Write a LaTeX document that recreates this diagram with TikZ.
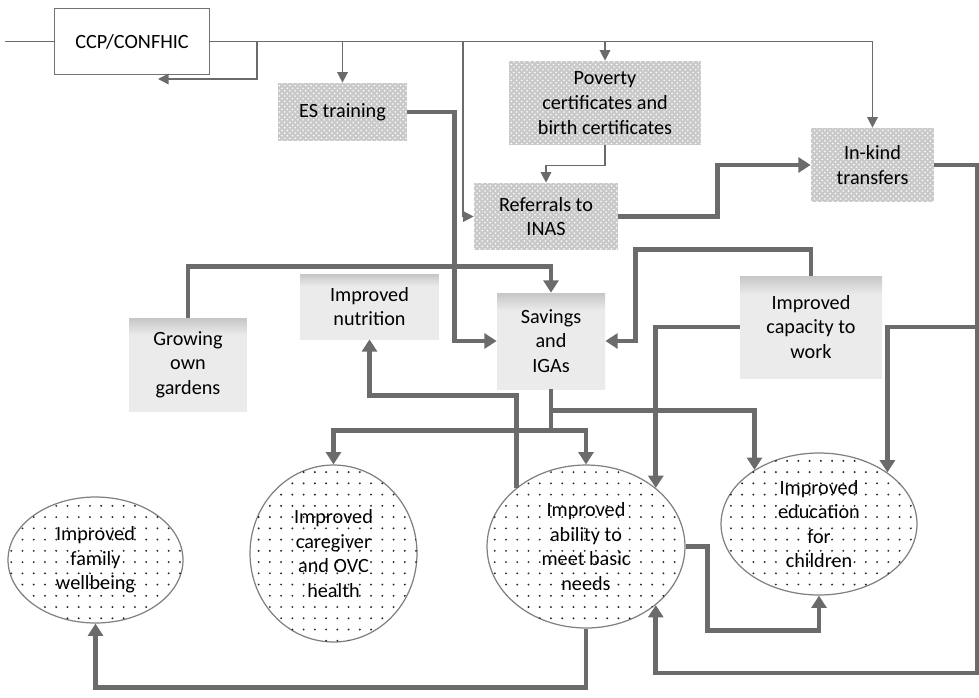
\documentclass[tikz,border=0pt]{standalone}
\usepackage{fontspec}
\setmainfont{Carlito}
\usetikzlibrary{arrows.meta,shapes.geometric,patterns,patterns.meta,calc}

\pgfdeclareverticalshading{boxfade}{100bp}{color(0bp)=(black!8); color(66bp)=(black!8); color(100bp)=(black!62)}

\tikzdeclarepattern{
  name=sparsedots,
  type=uncolored,
  bottom left={(-1pt,-1pt)},
  top right={(1pt,1pt)},
  tile size={(6.4pt,6.4pt)},
  code={\fill (0pt,0pt) circle [radius=0.6pt];}
}

\tikzset{
  txt/.style={font=\fontsize{11.5}{14}\selectfont, align=center, inner sep=0pt},
  plainbox/.style={txt, draw=black!55, line width=0.7pt, fill=white},
  meshbox/.style={txt, fill=black!21, postaction={pattern=crosshatch dots, pattern color=white}},
  fadebox/.style={txt, shading=boxfade},
  dotcircle/.style={txt, ellipse, draw=black!50, line width=0.7pt, fill=white,
    postaction={pattern=sparsedots, pattern color=black!85}},
  thinline/.style={draw=black!58, line width=0.85pt},
  thinarrow/.style={thinline, -{Triangle[width=6pt,length=6pt]}},
  thickarrow/.style={draw=black!58, line width=2.8pt, -{Triangle[width=8.5pt,length=7pt]}}
}

\begin{document}
\begin{tikzpicture}[x=0.02cm, y=-0.02cm]
  \useasboundingbox (0,0) rectangle (979,697);

  % programme and its activities
  \node[plainbox, minimum width=3.10cm, minimum height=1.32cm] (ccp) at (132,41.5) {CCP/CONFHIC};
  \node[meshbox, minimum width=2.58cm, minimum height=1.16cm] (es) at (342.5,112) {ES training};
  \node[meshbox, minimum width=3.84cm, minimum height=1.68cm] (pov) at (605,103) {Poverty\\certificates and\\birth certificates};
  \node[meshbox, minimum width=2.88cm, minimum height=1.34cm] (ref) at (546,216.5) {Referrals to\\INAS};
  \node[meshbox, minimum width=2.46cm, minimum height=1.48cm] (ink) at (872.5,165) {In-kind\\transfers};

  % intermediate outcomes
  \node[fadebox, minimum width=2.78cm, minimum height=1.30cm] (nut) at (369.5,306.5) {Improved\\nutrition};
  \node[fadebox, minimum width=2.36cm, minimum height=1.86cm] (grow) at (188,364.5) {Growing\\own\\gardens};
  \node[fadebox, minimum width=2.16cm, minimum height=1.92cm] (sav) at (551,341) {Savings\\and\\IGAs};
  \node[fadebox, minimum width=2.84cm, minimum height=2.04cm] (cap) at (811,327) {Improved\\capacity to\\work};

  % outcomes
  \node[dotcircle, minimum width=3.50cm, minimum height=2.52cm] (fam) at (95.5,560) {Improved\\family\\wellbeing};
  \node[dotcircle, minimum width=3.34cm, minimum height=3.54cm] (care) at (333.5,553.5) {Improved\\caregiver\\and OVC\\health};
  \node[dotcircle, minimum width=3.96cm, minimum height=3.26cm] (abil) at (586,546.5) {Improved\\ability to\\meet basic\\needs};
  \node[dotcircle, minimum width=3.92cm, minimum height=2.84cm] (edu) at (819,524) {Improved\\education\\for\\children};

  \coordinate (instub) at (5,41.5);
  \coordinate (busback) at (257,41.5);
  \coordinate (ccpback) at (158,79);
  \coordinate (busref) at (463,41.5);

  % thin links from CCP/CONFHIC
  \draw[thinline] (instub) -- (ccp.west);
  \draw[thinarrow] (ccp.east) -| (ink.north);
  \draw[thinarrow] (busback) |- (ccpback);
  \draw[thinarrow] (es.north |- ccp.east) -- (es.north);
  \draw[thinarrow] (busref) |- (ref.west);
  \draw[thinarrow] (pov.north |- ccp.east) -- (pov.north);
  \draw[thinarrow] (pov.south) -- ++(0,20) -| (ref.north);

  % thick links
  \draw[thickarrow] (es.east) -- ++(47,0) |- (sav.west);
  \draw[thickarrow] (ref.east) -- ++(99,0) |- (ink.west);
  \draw[thickarrow] (ink.east) -- ++(43,0) -- ++(0,162) -| (edu.37);
  \draw[thickarrow] (ink.east) -- ++(43,0) -- ++(0,508) -| (abil.-40);
  \draw[thickarrow] (grow.north) -- ++(0,-51) -| (sav.north);
  \draw[thickarrow] (cap.north) -- ++(0,-26) -| ($(sav.east)+(30,0)$) -- (sav.east);
  \draw[thickarrow] (cap.west) -| (abil.40);
  \draw[thickarrow] (sav.south) -- ++(0,41) -| (care.north);
  \draw[thickarrow] (sav.south) -- ++(0,41) -| (abil.north);
  \draw[thickarrow] (sav.south) -- ++(0,21) -| (edu.140);
  \draw[thickarrow] (abil.140) -- ++(0,-92) -| (nut.south);
  \draw[thickarrow] (abil.south) -- ++(0,59) -| (fam.south);
  \draw[thickarrow] (abil.east) -- ++(22,0) -- ++(0,84) -| (edu.south);
\end{tikzpicture}
\end{document}
